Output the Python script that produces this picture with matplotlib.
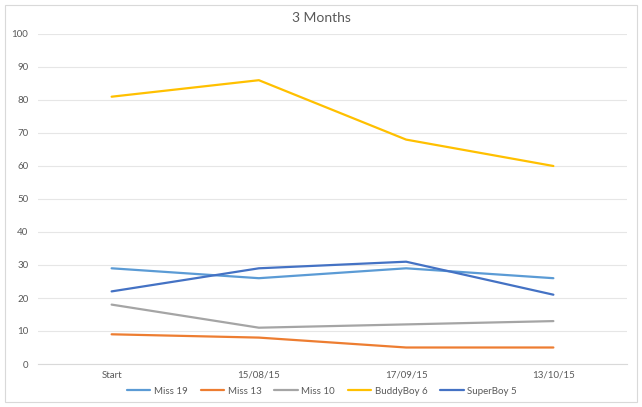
import matplotlib
matplotlib.use("Agg")
import matplotlib.pyplot as plt
from matplotlib.patches import Rectangle

categories = ["Start", "15/08/15", "17/09/15", "13/10/15"]
miss19 = [29, 26, 29, 26]
miss13 = [9, 8, 5, 5]
miss10 = [18, 11, 12, 13]
buddyboy6 = [81, 86, 68, 60]
superboy5 = [22, 29, 31, 21]
series_names = ["Miss 19", "Miss 13", "Miss 10", "BuddyBoy 6", "SuperBoy 5"]
colors = ["#5B9BD5", "#ED7D31", "#A5A5A5", "#FFC000", "#4472C4"]
yticks = [0, 10, 20, 30, 40, 50, 60, 70, 80, 90, 100]

plt.rcParams['font.family'] = ['Lato', 'DejaVu Sans']

fig = plt.figure(figsize=(6.42, 4.07), dpi=100)
fig.patches.append(Rectangle((5/642, 5/407), 632/642, 397/407, transform=fig.transFigure,
                             fill=False, edgecolor="#D9D9D9", linewidth=0.8))
ax = fig.add_axes([38/642, 1 - 364/407, 589/642, 330/407])

x = list(range(len(categories)))
for name, vals, c in zip(series_names, [miss19, miss13, miss10, buddyboy6, superboy5], colors):
    ax.plot(x, vals, color=c, linewidth=1.6, label=name, solid_capstyle='round')

ax.set_xlim(-0.5, len(categories) - 0.5)
ax.set_ylim(0, 100)
ax.set_yticks(yticks)
ax.set_xticks(x)
ax.set_xticklabels(categories)
ax.grid(axis='y', color="#E6E6E6", linewidth=0.8)
ax.set_axisbelow(True)
for s in ["top", "right", "left"]:
    ax.spines[s].set_visible(False)
ax.spines["bottom"].set_color("#D9D9D9")
ax.tick_params(axis='both', length=0, labelsize=7, labelcolor="#595959")
ax.tick_params(axis='x', pad=5)
ax.tick_params(axis='y', pad=7)

fig.text(0.5, 1 - 18/407, "3 Months", ha='center', va='center', fontsize=10, color="#595959")
fig.legend(loc='center', bbox_to_anchor=(322/642, 1 - 391/407), ncol=5, frameon=False,
           fontsize=7, labelcolor="#595959", handlelength=2.4, columnspacing=1.3,
           handletextpad=0.4)

fig.savefig("out.png", dpi=100)
